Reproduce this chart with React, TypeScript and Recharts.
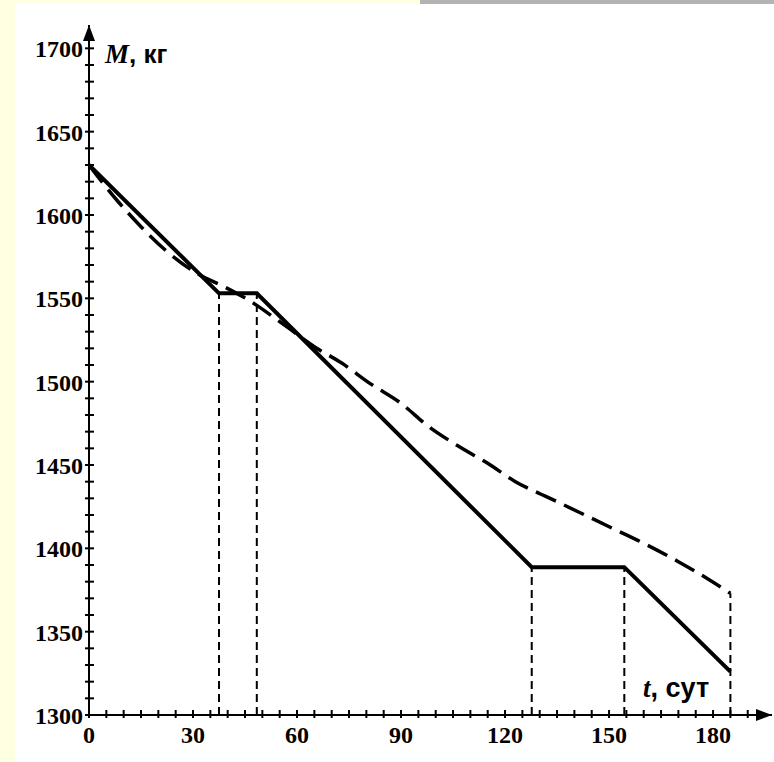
import React from 'react';
import { LineChart, Line, XAxis, YAxis, ReferenceLine, ReferenceDot, Label } from 'recharts';

// solid curve: break points (t, days -> M, kg)
const solidT = [0, 37.5, 48.4, 127.7, 154.4, 185];
const solidM = [1630, 1553, 1553, 1388.7, 1388.7, 1326];

// dashed curve
const dashT = [0, 8, 15, 22, 32, 38, 46, 57, 65, 73, 81, 90, 98, 106, 115, 123, 133, 143, 152, 161, 170, 179, 185];
const dashM = [1630, 1609, 1593, 1579, 1564, 1558, 1549, 1533, 1521, 1511, 1499, 1487, 1473, 1462, 1451, 1440, 1430, 1420, 1411, 1402, 1392, 1381, 1373];

// vertical dashed drop lines
const markT = [37.5, 48.4, 127.7, 154.4, 185];
const markM = [1553, 1553, 1388.7, 1388.7, 1373];

const yLabels = [1300, 1350, 1400, 1450, 1500, 1550, 1600, 1650, 1700];
const xLabels = [0, 30, 60, 90, 120, 150, 180];
const yTicks = Array.from({ length: 41 }, (_, i) => 1300 + i * 10);
const xTicks = Array.from({ length: 39 }, (_, i) => i * 5);

const Y_MIN = 1300;
const Y_MAX = 1714;
const X_MAX = 197;

const solidData = solidT.map((t, i) => ({ t, m: solidM[i] }));
const dashData = dashT.map((t, i) => ({ t, m: dashM[i] }));

const serif = '"Liberation Serif", "Times New Roman", serif';
const sans = '"Liberation Sans", Arial, sans-serif';

function YTick(props: any) {
  const { x, y, payload } = props;
  const v = payload.value;
  return (
    <g>
      <line x1={x - 4} x2={x + 5} y1={y} y2={y} stroke="#000" strokeWidth={2} />
      {yLabels.includes(v) && (
        <text x={x - 6} y={y + 9} textAnchor="end" fontFamily={serif} fontWeight="bold" fontSize={24} fill="#000">
          {v}
        </text>
      )}
    </g>
  );
}

function XTick(props: any) {
  const { x, y, payload } = props;
  const v = payload.value;
  return (
    <g>
      <line x1={x} x2={x} y1={y - 5} y2={y + 3} stroke="#000" strokeWidth={2} />
      {xLabels.includes(v) && (
        <text x={x} y={y + 28} textAnchor="middle" fontFamily={serif} fontWeight="bold" fontSize={24} fill="#000">
          {v}
        </text>
      )}
    </g>
  );
}

const UpArrow = (p: any) => (
  <polygon points={`${p.cx},${p.cy} ${p.cx - 6},${p.cy + 16} ${p.cx + 6},${p.cy + 16}`} fill="#000" />
);
const RightArrow = (p: any) => (
  <polygon points={`${p.cx},${p.cy} ${p.cx - 16},${p.cy - 6} ${p.cx - 16},${p.cy + 6}`} fill="#000" />
);

const YTitle = (p: any) => {
  const vb = p.viewBox;
  return (
    <text x={vb.x + vb.width + 16} y={vb.y + 38} fill="#000">
      <tspan fontFamily={serif} fontStyle="italic" fontWeight="bold" fontSize={27}>M</tspan>
      <tspan fontFamily={sans} fontWeight="bold" fontSize={26}>, кг</tspan>
    </text>
  );
};

const XTitle = (p: any) => {
  const vb = p.viewBox;
  return (
    <text x={vb.x + vb.width - 129} y={vb.y - 18} fill="#000">
      <tspan fontFamily={serif} fontStyle="italic" fontWeight="bold" fontSize={27}>t</tspan>
      <tspan fontFamily={sans} fontWeight="bold" fontSize={27}>, сут</tspan>
    </text>
  );
};

export default function App() {
  return (
    <div style={{ position: 'relative', width: 774, height: 762, background: '#ffffe1', overflow: 'hidden' }}>
      <style>{'body{margin:0}'}</style>
      <div style={{ position: 'absolute', left: 420, top: 0, width: 354, height: 4, background: '#b3b3b3' }} />
      <div style={{ position: 'absolute', left: 15, top: 4, width: 759, height: 758, background: '#fff' }}>
        <LineChart width={759} height={758} margin={{ top: 21, right: 2, bottom: 0, left: 0 }}>
          <XAxis
            type="number"
            dataKey="t"
            domain={[0, X_MAX]}
            ticks={xTicks}
            interval={0}
            tickSize={0}
            tickMargin={0}
            height={47}
            allowDataOverflow
            axisLine={{ stroke: '#000', strokeWidth: 2 }}
            tick={<XTick />}
          >
            <Label content={<XTitle />} />
          </XAxis>
          <YAxis
            type="number"
            dataKey="m"
            domain={[Y_MIN, Y_MAX]}
            ticks={yTicks}
            interval={0}
            tickSize={0}
            tickMargin={0}
            width={74}
            allowDataOverflow
            axisLine={{ stroke: '#000', strokeWidth: 2 }}
            tick={<YTick />}
          >
            <Label content={<YTitle />} />
          </YAxis>
          {markT.map((t, i) => (
            <ReferenceLine
              key={t}
              segment={[{ x: t, y: Y_MIN }, { x: t, y: markM[i] }]}
              stroke="#000"
              strokeWidth={2}
              strokeDasharray="8 5"
              ifOverflow="visible"
            />
          ))}
          <Line
            data={dashData}
            dataKey="m"
            type="monotone"
            stroke="#000"
            strokeWidth={3.5}
            strokeDasharray="22 9"
            dot={false}
            isAnimationActive={false}
          />
          <Line
            data={solidData}
            dataKey="m"
            type="linear"
            stroke="#000"
            strokeWidth={4}
            dot={false}
            isAnimationActive={false}
          />
          <ReferenceDot x={0} y={Y_MAX} r={0} shape={UpArrow} ifOverflow="visible" />
          <ReferenceDot x={X_MAX} y={Y_MIN} r={0} shape={RightArrow} ifOverflow="visible" />
        </LineChart>
      </div>
    </div>
  );
}
